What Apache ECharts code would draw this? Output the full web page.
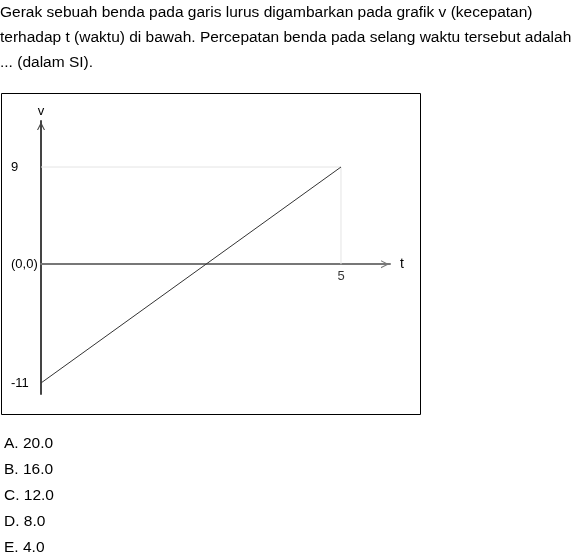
<!DOCTYPE html>
<html>
<head>
<meta charset="utf-8">
<script src="https://cdn.jsdelivr.net/npm/echarts@6/dist/echarts.min.js"></script>
<style>
html,body{margin:0;padding:0;background:#fff;}
#chart{position:absolute;left:0;top:0;width:572px;height:560px;}
.t{position:absolute;left:0;font-family:"Liberation Sans",Arial,sans-serif;font-size:15.5px;color:#000;white-space:nowrap;line-height:18px;}
</style>
</head>
<body>
<div id="chart"></div>
<div class="t" style="top:3px;">Gerak sebuah benda pada garis lurus digambarkan pada grafik v (kecepatan)</div>
<div class="t" style="top:28px;">terhadap t (waktu) di bawah. Percepatan benda pada selang waktu tersebut adalah</div>
<div class="t" style="top:53px;">... (dalam SI).</div>
<div class="t" style="top:434px;left:4px;">A. 20.0</div>
<div class="t" style="top:460px;left:4px;">B. 16.0</div>
<div class="t" style="top:486px;left:4px;">C. 12.0</div>
<div class="t" style="top:512px;left:4px;">D. 8.0</div>
<div class="t" style="top:538px;left:4px;">E. 4.0</div>
<script>
// data
const tValues = [0, 5];
const vValues = [-11, 9];
const yTickValues = [-11, 0, 9];
const xTickValues = [5];
const guideT = [0, 5, 5];
const guideV = [9, 9, 0];

const chart = echarts.init(document.getElementById('chart'));
const font = '"Liberation Sans", Arial, sans-serif';
const chevron = 'path://M0,10 L5,0 L10,10 L8.6,10 L5,3 L1.4,10 Z';
chart.setOption({
  animation: false,
  graphic: [{
    type: 'rect',
    shape: {x: 1.5, y: 93.5, width: 419, height: 321},
    style: {fill: 'none', stroke: '#000', lineWidth: 1},
    silent: true
  }],
  grid: {left: 41, top: 121, right: 182, bottom: 166},
  xAxis: {
    type: 'value', min: 0, max: 5.8167,
    name: 't', nameLocation: 'end', nameGap: 10,
    nameTextStyle: {fontSize: 14, color: '#000', fontFamily: font},
    axisLine: {onZero: true, lineStyle: {color: '#777', width: 2}, symbol: ['none', chevron], symbolSize: [8, 10], symbolOffset: [0, -5]},
    axisTick: {show: false},
    splitLine: {show: false},
    axisLabel: {show: false}
  },
  yAxis: {
    type: 'value', min: -12.02, max: 13.26,
    name: 'v', nameLocation: 'end', nameGap: 3,
    nameTextStyle: {fontSize: 13, color: '#000', fontFamily: font, align: 'center'},
    axisLine: {show: true, onZero: false, lineStyle: {color: '#444', width: 2}, symbol: ['none', chevron], symbolSize: [8, 10], symbolOffset: [0, -5]},
    axisTick: {show: false},
    splitLine: {show: false},
    axisLabel: {
      customValues: yTickValues, margin: 30, align: 'left', fontSize: 13, color: '#000', fontFamily: font,
      formatter: v => v === 0 ? '(0,0)' : String(v)
    }
  },
  series: [{
    type: 'line',
    data: guideT.map((t, i) => [t, guideV[i]]),
    symbol: 'none',
    lineStyle: {color: '#e4e4e4', width: 1},
    z: 1
  }, {
    type: 'line',
    data: tValues.map((t, i) => [t, vValues[i]]),
    symbol: 'none',
    lineStyle: {color: '#333', width: 1},
    z: 3
  }, {
    type: 'scatter',
    data: xTickValues.map(t => [t, 0]),
    symbolSize: 0,
    silent: true,
    label: {show: true, position: 'bottom', distance: 6, formatter: p => String(p.value[0]), fontSize: 13, color: '#000', fontFamily: font}
  }]
});
</script>
</body>
</html>
